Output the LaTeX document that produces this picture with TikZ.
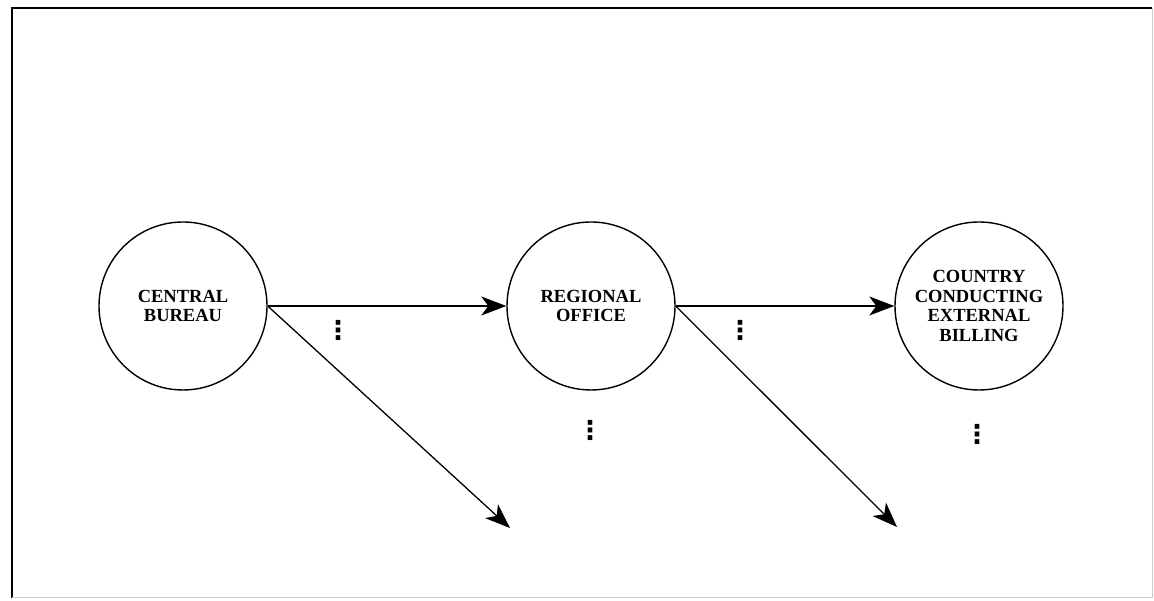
\documentclass[tikz,border=0pt]{standalone}
\usepackage{fontspec}
\setmainfont{Liberation Serif}
\newfontfamily\symfont{DejaVu Sans}
\usetikzlibrary{arrows.meta, positioning}

\begin{document}
\begin{tikzpicture}[x=1pt, y=1pt,
    office/.style={draw, circle, line width=1.4pt, minimum size=168pt, inner sep=0pt, align=center, font=\fontsize{18.5}{19.5}\selectfont\bfseries},
    flow/.style={-{Stealth[length=25pt, width=19pt, inset=7pt]}, line width=1.3pt},
    more/.style={inner sep=0pt, font=\symfont\bfseries\fontsize{26}{26}\selectfont},
]
\useasboundingbox (0,0) rectangle (1154,601);

% Frame
\draw[line width=2pt] (12,3) -- (12,593) -- (1152,593);
\draw[line width=1pt, gray!40] (1152,593) -- (1152,3) -- (12,3);

% Offices
\node[office] (cb) at (183,295) {CENTRAL\\BUREAU};
\node[office] (ro) at (591,295) {REGIONAL\\OFFICE};
\node[office] (cc) at (979,295) {COUNTRY\\CONDUCTING\\EXTERNAL\\BILLING};

% Open ends of the branching flows
\coordinate (cbout) at (510,73);
\coordinate (roout) at (897,74);

% Flows
\draw[flow] (cb.east) -- (ro.west);
\draw[flow] (ro.east) -- (cc.west);
\draw[flow] (cb.east) -- (cbout);
\draw[flow] (ro.east) -- (roout);

% Ellipses
\node[more] (dcb) at (338,271) {⋮};
\node[more] (dro) at (740,271) {⋮};
\node[more] (dbro) at (590,171) {⋮};
\node[more] (dbcc) at (977,167) {⋮};

\end{tikzpicture}
\end{document}
